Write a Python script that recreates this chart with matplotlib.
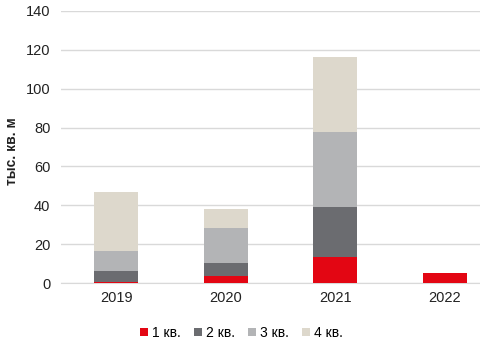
import numpy as np
import matplotlib.pyplot as plt

years = ['2019', '2020', '2021', '2022']
q_labels = ['1 кв.', '2 кв.', '3 кв.', '4 кв.']
q1 = [0.5, 3.8, 13.2, 5.0]
q2 = [5.8, 6.6, 25.9, 0]
q3 = [10.3, 17.9, 38.6, 0]
q4 = [30.2, 9.9, 38.8, 0]
colors = ['#e30613', '#6b6c70', '#b3b4b6', '#ddd8cc']

plt.rcParams['font.family'] = ['Liberation Sans', 'DejaVu Sans']

fig = plt.figure(figsize=(4.8, 3.41), dpi=100)
ax = fig.add_axes([0.128, 0.170, 0.872, 0.798])

x = np.arange(len(years))
bottom = np.zeros(len(years))
for vals, lab, col in zip([q1, q2, q3, q4], q_labels, colors):
    ax.bar(x, vals, 0.4, bottom=bottom, color=col, label=lab, zorder=3)
    bottom += np.array(vals)

ax.set_xlim(-0.5, 3.32)
ax.set_ylim(0, 140)
ax.set_yticks(range(0, 141, 20))
ax.set_xticks(x)
ax.set_xticklabels(years)
ax.grid(axis='y', color='#d9d9d9', linewidth=1, zorder=0)
for s in ['top', 'right', 'left']:
    ax.spines[s].set_visible(False)
ax.spines['bottom'].set_color('#d9d9d9')
ax.tick_params(axis='both', length=0, labelsize=10.5, colors='#222222')
ax.tick_params(axis='y', pad=8)
ax.tick_params(axis='x', pad=6)

# y axis title placed by hand so it sits close to the left edge
fig.text(0.026, 0.557, 'тыс. кв. м', rotation=90, ha='center', va='center',
         fontsize=10, fontweight='bold', color='#222222')

ax.legend(loc='lower center', bbox_to_anchor=(0.43, -0.255), ncol=4, frameon=False,
          fontsize=10, handlelength=0.6, handleheight=0.6, handletextpad=0.3,
          columnspacing=0.9)

fig.savefig('out.png', dpi=100)
